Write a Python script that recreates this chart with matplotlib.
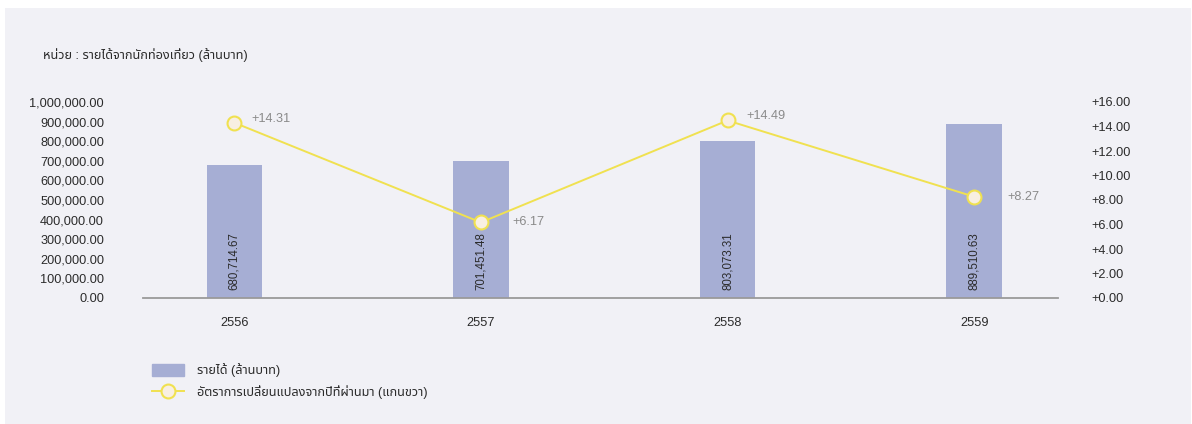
import matplotlib
matplotlib.use("Agg")
import matplotlib.pyplot as plt
from matplotlib.patches import Rectangle

plt.rcParams['font.family'] = ['Liberation Sans', 'Noto Sans Thai']

years = ['2556', '2557', '2558', '2559']
revenue = [680714.67, 701451.48, 803073.31, 889510.63]
growth = [14.31, 6.17, 14.49, 8.27]
left_ticks = list(range(0, 1000001, 100000))
right_ticks = list(range(0, 17, 2))

title = 'หน่วย : รายได้จากนักท่องเที่ยว (ล้านบาท)'
bar_label = 'รายได้ (ล้านบาท)'
line_label = 'อัตราการเปลี่ยนแปลงจากปีที่ผ่านมา (แกนขวา)'

bar_color = '#a6aed4'
line_color = '#f0e150'
marker_face = '#f8efe2'
panel_color = '#f1f1f6'
text_color = '#2b2b2b'
fs = 9.2

fig = plt.figure(figsize=(11.92, 4.24), dpi=100)
fig.patch.set_facecolor('white')
# light panel behind the chart
fig.patches.append(Rectangle((5 / 1192, 0), 1186 / 1192, 416 / 424,
                             transform=fig.transFigure, facecolor=panel_color,
                             edgecolor='none', zorder=-10))

ax = fig.add_axes([143 / 1192, 126 / 424, 915 / 1192, 196 / 424])
ax.set_facecolor('none')
x = list(range(len(years)))

bars = ax.bar(x, revenue, width=0.225, color=bar_color, zorder=2)
for xi, v in zip(x, revenue):
    ax.text(xi, 42000, f'{v:,.2f}', rotation=90, ha='center', va='bottom',
            fontsize=8.3, color=text_color, zorder=3)

ax.set_xlim(-0.37, 3.34)
ax.set_ylim(0, 1000000)
ax.set_yticks(left_ticks)
ax.set_yticklabels([f'{t:,.2f}' for t in left_ticks])
ax.set_xticks(x)
ax.set_xticklabels(years)
ax.tick_params(axis='y', length=0, pad=28, labelsize=fs, labelcolor=text_color)
ax.tick_params(axis='x', length=0, pad=14, labelsize=fs, labelcolor=text_color)
for s in ['top', 'right', 'left']:
    ax.spines[s].set_visible(False)
ax.spines['bottom'].set_color('#9a9a9a')
ax.spines['bottom'].set_linewidth(1.3)

ax2 = ax.twinx()
ax2.plot(x, growth, color=line_color, lw=1.4, marker='o', ms=10,
         mfc=marker_face, mec=line_color, mew=1.5, zorder=4)
ax2.set_ylim(0, 16)
ax2.set_yticks(right_ticks)
ax2.set_yticklabels([f'+{t:.2f}' for t in right_ticks])
ax2.tick_params(axis='y', length=0, pad=24, labelsize=fs, labelcolor=text_color)
for s in ax2.spines.values():
    s.set_visible(False)

# change labels beside each point
label_offsets = [(17, 4), (32, 0), (19, 4), (33, 0)]
for xi, g, off in zip(x, growth, label_offsets):
    ax2.annotate(f'+{g:.2f}', (xi, g), xytext=off, textcoords='offset pixels',
                 ha='left', va='center', fontsize=fs, color='#8a8a8a')

fig.text(43 / 1192, 1 - 55 / 424, title, fontsize=fs, color=text_color,
         ha='left', va='center')

# legend
h_bar = Rectangle((0, 0), 1, 1, color=bar_color)
h_line, = ax2.plot([], [], color=line_color, lw=1.4, marker='o', ms=10,
                   mfc=marker_face, mec=line_color, mew=1.5)
fig.legend([h_bar, h_line], [bar_label, line_label],
           loc='upper left', bbox_to_anchor=(146 / 1192, 1 - 357 / 424),
           frameon=False, fontsize=fs, handlelength=2.5, handleheight=1.0,
           handletextpad=1.0, labelspacing=0.6, borderpad=0, labelcolor=text_color)

fig.savefig('out.png', dpi=100, facecolor='white')
